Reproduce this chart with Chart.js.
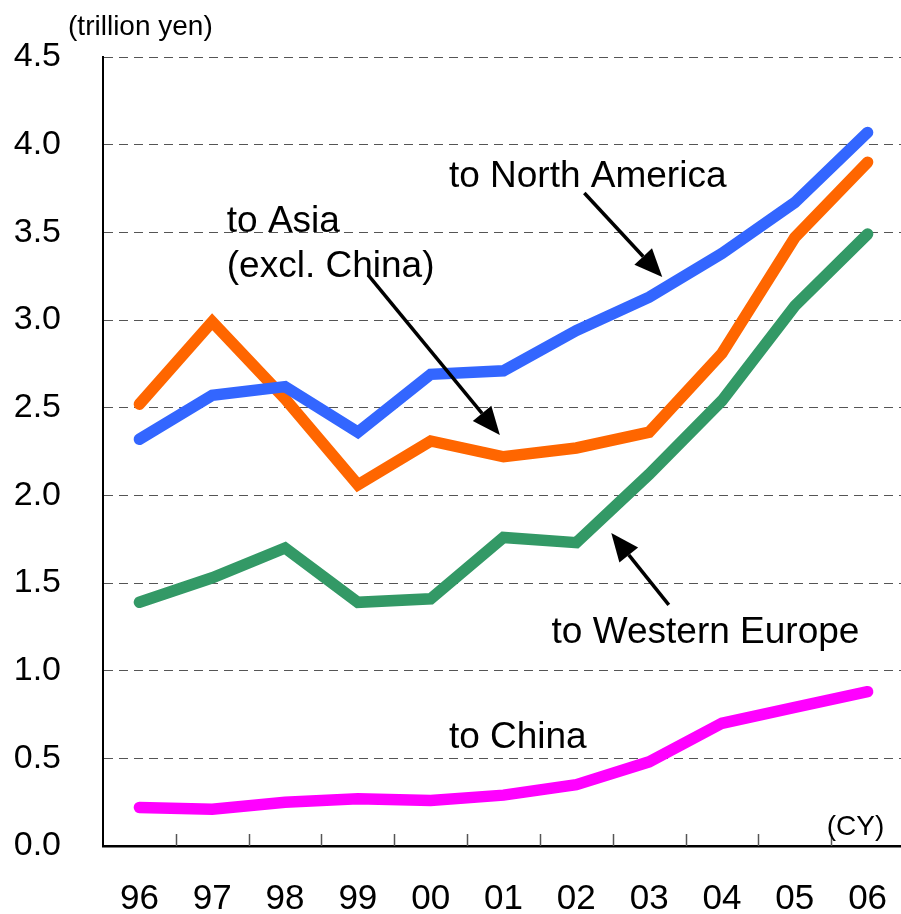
<!DOCTYPE html>
<html>
<head>
<meta charset="utf-8">
<script src="https://cdn.jsdelivr.net/npm/chart.js@4"></script>
<style>
  html, body { margin: 0; padding: 0; background: #fff; overflow: hidden; }
  #wrap { width: 904px; height: 914px; }
</style>
</head>
<body>
<div id="wrap"><canvas id="c" width="904" height="914"></canvas></div>
<script>
// ---- data ----
const categories = ['96','97','98','99','00','01','02','03','04','05','06'];
const toNorthAmerica = [2.32, 2.57, 2.62, 2.36, 2.69, 2.71, 2.94, 3.13, 3.38, 3.67, 4.07];
const toAsiaExclChina = [2.52, 2.99, 2.55, 2.06, 2.31, 2.22, 2.27, 2.36, 2.81, 3.47, 3.90];
const toWesternEurope = [1.39, 1.53, 1.70, 1.39, 1.41, 1.76, 1.73, 2.12, 2.54, 3.08, 3.49];
const toChina = [0.22, 0.21, 0.25, 0.27, 0.26, 0.29, 0.35, 0.48, 0.70, 0.79, 0.88];
const yTickValues = [0, 0.5, 1, 1.5, 2, 2.5, 3, 3.5, 4, 4.5];

// annotation texts (positions in data units: [categoryIndex, value])
const labelTexts = [
  { text: 'to North America', at: [4.25, 3.76] },
  { text: 'to Asia', at: [1.20, 3.50] },
  { text: '(excl. China)', at: [1.20, 3.245] },
  { text: 'to Western Europe', at: [5.66, 1.158] },
  { text: 'to China', at: [4.25, 0.559] }
];
const arrows = [
  { from: [6.11, 3.724], to: [7.18, 3.245] },
  { from: [3.14, 3.257], to: [4.95, 2.344] },
  { from: [7.27, 1.375], to: [6.48, 1.785] }
];

const FONT = "'Liberation Sans', Arial, Helvetica, sans-serif";

const annotPlugin = {
  id: 'annot',
  afterDatasetsDraw(chart) {
    const ctx = chart.ctx;
    const xs = chart.scales.x, ys = chart.scales.y;
    const px = (i) => xs.getPixelForValue(0) + i * (xs.getPixelForValue(1) - xs.getPixelForValue(0));
    const py = (v) => ys.getPixelForValue(v);
    ctx.save();
    // inward tick marks on x axis at category boundaries
    ctx.strokeStyle = '#555';
    ctx.lineWidth = 1.5;
    for (let k = 0; k < categories.length - 1; k++) {
      const x = Math.round(px(k + 0.5)) + 0.5;
      ctx.beginPath();
      ctx.moveTo(x, chart.chartArea.bottom);
      ctx.lineTo(x, chart.chartArea.bottom - 12);
      ctx.stroke();
    }
    // texts
    ctx.fillStyle = '#000';
    ctx.font = '37px ' + FONT;
    ctx.textAlign = 'left';
    ctx.textBaseline = 'alphabetic';
    labelTexts.forEach(l => ctx.fillText(l.text, px(l.at[0]), py(l.at[1])));
    // arrows
    arrows.forEach(a => {
      const x1 = px(a.from[0]), y1 = py(a.from[1]);
      const x2 = px(a.to[0]), y2 = py(a.to[1]);
      const ang = Math.atan2(y2 - y1, x2 - x1);
      const hl = 28, hw = 12;
      const bx = x2 - hl * Math.cos(ang), by = y2 - hl * Math.sin(ang);
      ctx.strokeStyle = '#000';
      ctx.lineWidth = 3.5;
      ctx.beginPath();
      ctx.moveTo(x1, y1);
      ctx.lineTo(bx, by);
      ctx.stroke();
      ctx.beginPath();
      ctx.moveTo(x2, y2);
      ctx.lineTo(bx + hw * Math.sin(ang), by - hw * Math.cos(ang));
      ctx.lineTo(bx - hw * Math.sin(ang), by + hw * Math.cos(ang));
      ctx.closePath();
      ctx.fill();
    });
    // unit labels
    ctx.font = '28px ' + FONT;
    ctx.textBaseline = 'middle';
    ctx.textAlign = 'left';
    ctx.fillText('(trillion yen)', px(-0.98), py(4.67));
    ctx.textAlign = 'right';
    ctx.fillText('(CY)', px(10.23), py(0.108));
    ctx.restore();
  }
};

const lineDs = (label, data, color) => ({
  label, data,
  borderColor: color,
  backgroundColor: color,
  borderWidth: 11.5,
  pointRadius: 0,
  pointHoverRadius: 0,
  borderCapStyle: 'round',
  borderJoinStyle: 'miter',
  tension: 0,
  fill: false
});

const noPad = (scale) => {
  scale.paddingTop = 0; scale.paddingBottom = 0;
  scale.paddingLeft = 0; scale.paddingRight = 0;
};

new Chart(document.getElementById('c'), {
  type: 'line',
  data: {
    labels: categories,
    datasets: [
      lineDs('to North America', toNorthAmerica, '#3366FF'),
      lineDs('to Asia (excl. China)', toAsiaExclChina, '#FF6600'),
      lineDs('to Western Europe', toWesternEurope, '#339966'),
      lineDs('to China', toChina, '#FF00FF')
    ]
  },
  options: {
    responsive: false,
    animation: false,
    events: [],
    layout: { padding: { top: 57, right: 0, left: 0, bottom: 0 } },
    plugins: { legend: { display: false }, tooltip: { enabled: false }, title: { display: false } },
    scales: {
      x: {
        type: 'category',
        offset: true,
        grid: { display: false, drawTicks: false },
        border: { display: true, color: '#000', width: 2.5 },
        ticks: {
          color: '#000',
          font: { family: FONT, size: 35 },
          padding: 32,
          maxRotation: 0,
          autoSkip: false
        },
        afterFit(scale) { scale.height = 68; noPad(scale); }
      },
      y: {
        min: 0,
        max: 4.5,
        afterBuildTicks(scale) { scale.ticks = yTickValues.map(v => ({ value: v })); },
        grid: { color: '#555', lineWidth: 1, drawTicks: false },
        border: { display: true, color: '#000', width: 2, dash: [9, 6] },
        ticks: {
          color: '#000',
          font: { family: FONT, size: 34 },
          padding: 42,
          callback: (v) => Number(v).toFixed(1)
        },
        afterFit(scale) { scale.width = 103; noPad(scale); }
      }
    }
  },
  plugins: [annotPlugin]
});
</script>
</body>
</html>
